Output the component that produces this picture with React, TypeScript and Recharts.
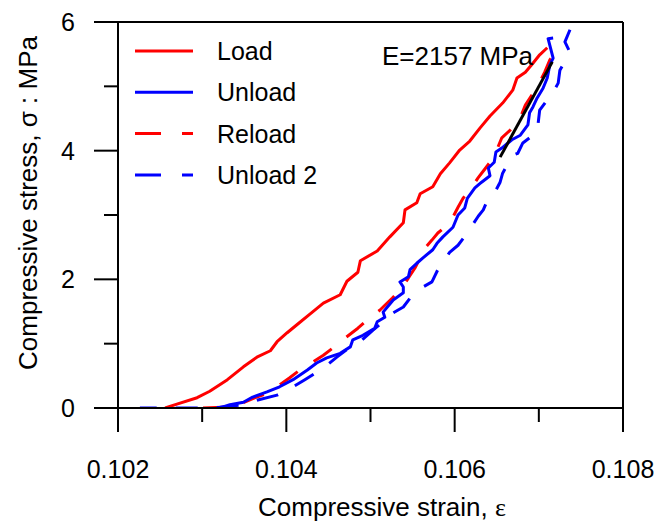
import { LineChart, Line, XAxis, YAxis, ReferenceLine } from 'recharts';

// strain / stress pairs
const loadStrain = [0.10256, 0.1027, 0.10294, 0.10309, 0.1033, 0.10349, 0.10365, 0.10381, 0.10389, 0.10401, 0.10414, 0.10428, 0.10444, 0.10464, 0.10472, 0.10485, 0.10488, 0.10508, 0.10523, 0.10539, 0.10541, 0.10555, 0.10559, 0.10574, 0.10583, 0.10594, 0.10606, 0.10618, 0.1063, 0.10642, 0.10657, 0.10669, 0.10674, 0.10684, 0.10693, 0.10701, 0.1071];
const loadStress = [0, 0.06, 0.16, 0.26, 0.44, 0.64, 0.79, 0.89, 1.03, 1.17, 1.31, 1.46, 1.63, 1.76, 1.97, 2.11, 2.29, 2.44, 2.66, 2.88, 3.08, 3.19, 3.33, 3.44, 3.64, 3.81, 4.01, 4.15, 4.35, 4.54, 4.74, 4.94, 5.13, 5.22, 5.36, 5.49, 5.6];

const unloadStrain = [0.10717, 0.10711, 0.10713, 0.10717, 0.10713, 0.1071, 0.10705, 0.10698, 0.10693, 0.10689, 0.10687, 0.10678, 0.10668, 0.10656, 0.10649, 0.10647, 0.1064, 0.10642, 0.10632, 0.10624, 0.10615, 0.10612, 0.10604, 0.10598, 0.10586, 0.10579, 0.10574, 0.10562, 0.10555, 0.10547, 0.10545, 0.10535, 0.10539, 0.10539, 0.10527, 0.1052, 0.10515, 0.10517, 0.10508, 0.10505, 0.10491, 0.10479, 0.10476, 0.10464, 0.10448, 0.10436, 0.10425, 0.10408, 0.10392, 0.10377, 0.1036, 0.10349, 0.10333, 0.10321];
const unloadStress = [5.75, 5.74, 5.64, 5.44, 5.33, 5.13, 4.97, 4.82, 4.68, 4.59, 4.4, 4.24, 4.17, 4.04, 3.98, 3.82, 3.73, 3.61, 3.51, 3.42, 3.26, 3.11, 3.0, 2.81, 2.66, 2.56, 2.46, 2.33, 2.25, 2.15, 2.04, 1.96, 1.88, 1.79, 1.68, 1.57, 1.49, 1.41, 1.34, 1.24, 1.13, 1.06, 0.95, 0.85, 0.78, 0.7, 0.59, 0.44, 0.33, 0.25, 0.17, 0.09, 0.05, 0];

const reloadStrain = [0.10301, 0.10324, 0.10345, 0.10363, 0.10378, 0.10392, 0.10404, 0.10416, 0.10432, 0.10444, 0.10455, 0.1047, 0.10485, 0.10499, 0.10511, 0.10526, 0.10535, 0.10545, 0.10553, 0.10565, 0.10573, 0.1058, 0.10591, 0.10598, 0.10604, 0.1061, 0.10618, 0.10628, 0.10635, 0.10642, 0.1065, 0.10656, 0.10666, 0.10678, 0.10684, 0.10692, 0.10698, 0.10707, 0.10713, 0.1072, 0.10727];
const reloadStress = [0, 0.01, 0.06, 0.16, 0.23, 0.36, 0.47, 0.59, 0.72, 0.82, 0.93, 1.09, 1.24, 1.4, 1.52, 1.71, 1.83, 2.02, 2.18, 2.49, 2.61, 2.72, 2.84, 2.97, 3.12, 3.26, 3.39, 3.58, 3.7, 3.82, 4.01, 4.2, 4.32, 4.51, 4.71, 4.87, 4.99, 5.22, 5.41, 5.52, 5.61];

const unload2Strain = [0.10737, 0.10731, 0.10737, 0.10725, 0.10723, 0.10717, 0.1071, 0.10701, 0.10698, 0.10681, 0.10675, 0.10669, 0.10657, 0.10654, 0.10648, 0.1064, 0.10634, 0.10628, 0.10621, 0.10612, 0.10604, 0.10594, 0.10588, 0.1058, 0.10573, 0.10561, 0.1055, 0.10539, 0.10527, 0.10515, 0.10503, 0.1049, 0.10476, 0.1046, 0.10444, 0.10422, 0.10408, 0.10389, 0.10365, 0.10349, 0.10321, 0.10295, 0.10246, 0.10226];
const unload2Stress = [5.88, 5.69, 5.53, 5.25, 5.05, 4.91, 4.79, 4.63, 4.29, 4.12, 3.96, 3.93, 3.65, 3.51, 3.36, 3.26, 3.08, 2.98, 2.84, 2.67, 2.53, 2.42, 2.3, 2.15, 1.96, 1.87, 1.76, 1.57, 1.48, 1.34, 1.21, 1.06, 0.95, 0.79, 0.62, 0.44, 0.33, 0.2, 0.12, 0.05, 0.01, 0, 0, 0];

// fitted slope, E = 2157 MPa
const fitStrain = [0.10654, 0.10716];
const fitStress = [3.9, 5.38];

const xMajorTicks = [0.102, 0.104, 0.106, 0.108];
const xMinorTicks = [0.103, 0.105, 0.107];
const yMajorTicks = [0, 2, 4, 6];
const yMinorTicks = [1, 3, 5];

const seriesNames = ['Load', 'Unload', 'Reload', 'Unload 2'];
const seriesColors = ['#ff0000', '#0000ff', '#ff0000', '#0000ff'];
const seriesDash = [undefined, undefined, '26 21', '26 21'];

const FONT = '"Liberation Sans", Arial, sans-serif';

const zip = (xs: number[], ys: number[]) => xs.map((x, i) => ({ strain: x, stress: ys[i] }));

const loadData = zip(loadStrain, loadStress);
const unloadData = zip(unloadStrain, unloadStress);
const reloadData = zip(reloadStrain, reloadStress);
const unload2Data = zip(unload2Strain, unload2Stress);
const fitData = zip(fitStrain, fitStress);

const isIn = (list: number[], v: number) => list.some((t) => Math.abs(t - v) < 1e-9);

const XTick = (props: any) => {
  const { x, y, payload } = props;
  const major = isIn(xMajorTicks, payload.value);
  return (
    <g>
      <line x1={x} x2={x} y1={y} y2={y + (major ? 24 : 14)} stroke="#000" strokeWidth={2} />
      {major && (
        <text x={x} y={y + 70} textAnchor="middle" fontSize={25} fontFamily={FONT} fill="#000">
          {payload.value.toFixed(3)}
        </text>
      )}
    </g>
  );
};

const YTick = (props: any) => {
  const { x, y, payload } = props;
  const major = isIn(yMajorTicks, payload.value);
  return (
    <g>
      <line x1={x - (major ? 24 : 14)} x2={x} y1={y} y2={y} stroke="#000" strokeWidth={2} />
      {major && (
        <text x={x - 43} y={y + 9} textAnchor="end" fontSize={25} fontFamily={FONT} fill="#000">
          {payload.value}
        </text>
      )}
    </g>
  );
};

const lineProps = {
  type: 'linear' as const,
  dataKey: 'stress',
  strokeWidth: 3,
  dot: false,
  activeDot: false,
  isAnimationActive: false,
  strokeLinejoin: 'round' as const,
};

export default function App() {
  const xTicks = [...xMajorTicks, ...xMinorTicks].sort((a, b) => a - b);
  const yTicks = [...yMajorTicks, ...yMinorTicks].sort((a, b) => a - b);
  return (
    <div style={{ position: 'absolute', left: 0, top: 0, width: 660, height: 523, background: '#fff' }}>
      <LineChart width={660} height={523} margin={{ top: 22, right: 37, bottom: 0, left: 0 }}>
        <XAxis
          dataKey="strain"
          type="number"
          domain={[0.102, 0.108]}
          ticks={xTicks}
          interval={0}
          height={115}
          tickSize={0}
          tickMargin={0}
          tickLine={false}
          tick={<XTick />}
          axisLine={{ stroke: '#000', strokeWidth: 2 }}
          allowDataOverflow
        />
        <YAxis
          type="number"
          domain={[0, 6]}
          ticks={yTicks}
          interval={0}
          width={118}
          tickSize={0}
          tickMargin={0}
          tickLine={false}
          tick={<YTick />}
          axisLine={{ stroke: '#000', strokeWidth: 2 }}
          allowDataOverflow
        />
        <ReferenceLine y={6} stroke="#000" strokeWidth={2} />
        <ReferenceLine x={0.108} stroke="#000" strokeWidth={2} />
        <Line {...lineProps} data={loadData} name="Load" stroke="#ff0000" />
        <Line {...lineProps} data={reloadData} name="Reload" stroke="#ff0000" strokeDasharray="22 19" />
        <Line {...lineProps} data={unloadData} name="Unload" stroke="#0000ff" />
        <Line {...lineProps} data={unload2Data} name="Unload 2" stroke="#0000ff" strokeDasharray="22 19" />
        <Line {...lineProps} data={fitData} name="E" stroke="#000" legendType="none" />
      </LineChart>
      <svg
        width={660}
        height={523}
        style={{ position: 'absolute', left: 0, top: 0, pointerEvents: 'none' }}
        fontFamily={FONT}
      >
        {seriesNames.map((name, i) => {
          const cy = 51 + i * 41.3;
          return (
            <g key={name}>
              <line x1={135} x2={193} y1={cy} y2={cy} stroke={seriesColors[i]} strokeWidth={3} strokeDasharray={seriesDash[i]} />
              <text x={217} y={cy + 9} fontSize={25} fill="#000">
                {name}
              </text>
            </g>
          );
        })}
        <text x={382} y={65} fontSize={26} fill="#000">
          E=2157 MPa
        </text>
        <text x={382} y={516} textAnchor="middle" fontSize={26} fill="#000">
          Compressive strain, <tspan fontFamily='"Liberation Serif", serif'>ε</tspan>
        </text>
        <text transform="translate(37,203) rotate(-90)" textAnchor="middle" fontSize={26} fill="#000">
          Compressive stress, σ : MPa
        </text>
      </svg>
    </div>
  );
}
